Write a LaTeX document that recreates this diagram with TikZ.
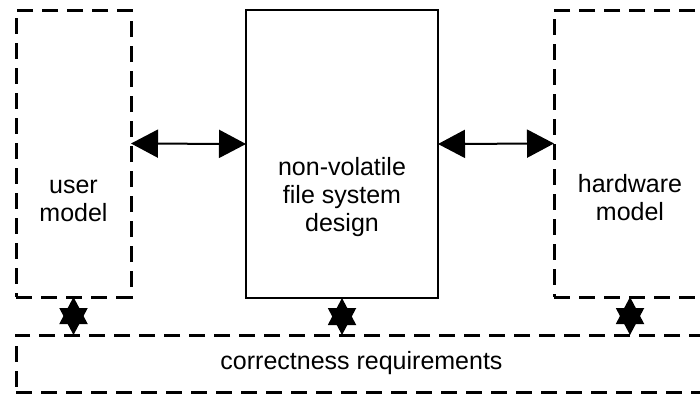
\documentclass[tikz,border=0pt]{standalone}
\usepackage{fontspec}
\setmainfont{Liberation Sans}
\usetikzlibrary{arrows.meta}
\definecolor{inkblack}{RGB}{0, 0, 0}

\begin{document}
\begin{tikzpicture}[x=1pt, y=-1pt,
        every node/.style={font=\fontsize{25}{28}\selectfont, align=center, inner sep=0pt, outer sep=0pt, text=inkblack},
        dashbox/.style={draw=inkblack, line width=3pt, dash pattern=on 16pt off 9pt},
        solidbox/.style={draw=inkblack, line width=2pt},
        biarrow/.style={inkblack, line width=2pt, {Triangle[length=27pt, width=28pt]}-{Triangle[length=27pt, width=28pt]}}]
            \useasboundingbox (0, 0) rectangle (700, 394);
            \node[dashbox,  minimum width=115pt, minimum height=287pt] (user)   at ( 73.5, 153.5) {};
            \node[solidbox, minimum width=192pt, minimum height=288pt] (design) at (342.0, 154.0) {};
            \node[dashbox,  minimum width=152pt, minimum height=287pt] (hw)     at (630.0, 153.5) {};
            \node[dashbox,  minimum width=691pt, minimum height=57pt]  (req)    at (361.5, 363.5) {correctness requirements};
            \node (usertxt)   at ( 73.5, 201) {user\\model};
            \node (designtxt) at (342.0, 197) {non-volatile\\file system\\design};
            \node (hwtxt)     at (630.0, 198) {hardware\\model};
            \draw[biarrow] ([yshift=10pt]user.east)   -- ([yshift=10pt]design.west);
            \draw[biarrow] ([yshift=10pt]design.east) -- ([yshift=10pt]hw.west);
            \draw[biarrow] (user.south)   -- (user.south |- req.north);
            \draw[biarrow] (design.south) -- (design.south |- req.north);
            \draw[biarrow] (hw.south)     -- (hw.south |- req.north);
\end{tikzpicture}
\end{document}
